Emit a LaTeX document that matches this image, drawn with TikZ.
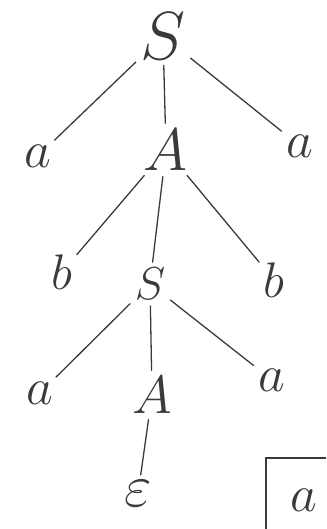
\RequirePackage{fix-cm}
\documentclass[tikz,border=0pt]{standalone}
\usepackage{tikz}
\usepackage{amsmath}
\usetikzlibrary{positioning, calc}
\definecolor{inkgray}{HTML}{3A3A3A}
\tikzset{sym/.style={inner sep=1pt, text=inkgray, font=\fontsize{#1}{#1}\selectfont}}
\tikzstyle{edge} = [line width=1.3pt, color=inkgray, line cap=round, shorten <=5pt, shorten >=5pt]

\begin{document}
\begin{tikzpicture}[x=1pt, y=-1pt]
    \useasboundingbox (0,0) rectangle (326,529);
    % Nodes
    \node[sym=68] (root) at (163,36) {$S$};
    \node[sym=52] (a1) at (38,156) {$a$};
    \node[sym=60] (A1) at (166,150) {$A$};
    \node[sym=52] (a2) at (300,146) {$a$};
    \node[sym=50] (b1) at (62,272) {$b$};
    \node[sym=46] (S2) at (150,284) {$S$};
    \node[sym=50] (b2) at (274,280) {$b$};
    \node[sym=52] (a3) at (40,393) {$a$};
    \node[sym=54] (A2) at (152,395) {$A$};
    \node[sym=52] (a4) at (272,380) {$a$};
    \node[sym=60] (eps) at (138,494) {$\varepsilon$};

    % Edges
    \draw[edge] (root) -- (a1);
    \draw[edge] (root) -- (A1);
    \draw[edge] (root) -- (a2);
    \draw[edge] (A1) -- (b1);
    \draw[edge] (A1) -- (S2);
    \draw[edge] (A1) -- (b2);
    \draw[edge] (S2) -- (a3);
    \draw[edge] (S2) -- (A2);
    \draw[edge] (S2) -- (a4);
    \draw[edge] (A2) -- (eps);

    % Box, cut off at the page edge
    \coordinate (boxcorner) at (266,458);
    \draw[line width=1.3pt, color=inkgray] (266,529) -- (boxcorner) -- (326,458);
    \node[sym=52] (boxtext) at (304,500) {$a$};
\end{tikzpicture}
\end{document}
